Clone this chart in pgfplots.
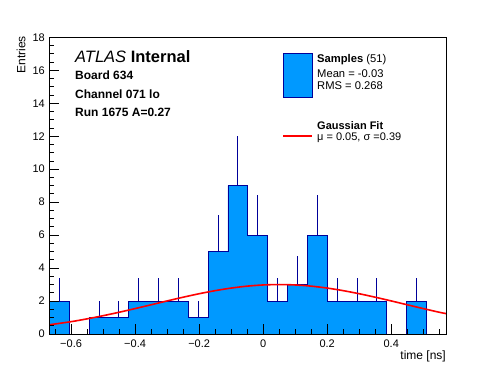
\documentclass[border=0pt]{standalone}
\usepackage{fontspec}
\setmainfont{Liberation Sans}
\usepackage{pgfplots}
\pgfplotsset{compat=1.18}
\definecolor{rootblue}{RGB}{0,153,255}
\definecolor{rootnavy}{RGB}{0,0,153}
\newcommand{\fs}[1]{\fontsize{#1bp}{#1bp}\selectfont}
\begin{document}
\begin{tikzpicture}
\path[use as bounding box] (0,0) rectangle (496bp,372bp);
\begin{axis}[
  at={(49.3bp,38bp)}, anchor=south west,
  scale only axis, width=397bp, height=296.7bp,
  xmin=-0.668, xmax=0.572, ymin=0, ymax=18,
  axis on top,
  axis line style={line width=0.8bp},
  xtick={-0.6,-0.4,-0.2,0,0.2,0.4},
  xticklabels={−0.6,−0.4,−0.2,0,0.2,0.4},
  minor xtick={-0.65,-0.6,...,0.56},
  ytick={0,2,...,18},
  minor ytick={0,0.5,...,18},
  xtick pos=bottom, ytick pos=left,
  tick align=inside,
  major tick length=10bp, minor tick length=5bp,
  every tick/.style={line width=0.8bp, black},
  /pgf/number format/assume math mode=true,
  xticklabel style={font=\fs{11}, yshift=-2bp},
  yticklabel style={font=\fs{11}, xshift=-1bp},
]
% histogram: bin lower edges and counts
\addplot[const plot, fill=rootblue, draw=rootnavy, line width=0.9bp] coordinates {
(-0.668,2) (-0.606,0) (-0.544,1) (-0.482,1) (-0.420,2) (-0.358,2) (-0.296,2)
(-0.234,1) (-0.172,5) (-0.110,9) (-0.048,6) (0.014,2) (0.076,3) (0.138,6)
(0.200,2) (0.262,2) (0.324,2) (0.386,0) (0.448,2) (0.510,0) (0.572,0)
} \closedcycle;
% error bars (upper half visible)
\addplot[draw=none, mark=none, forget plot,
  error bars/.cd, y dir=plus, y explicit, error mark=none,
  error bar style={rootnavy, line width=0.8bp}]
  table[x=x, y=y, y error=e] {
x y e
-0.637 2 1.414
-0.513 1 1
-0.451 1 1
-0.389 2 1.414
-0.327 2 1.414
-0.265 2 1.414
-0.203 1 1
-0.141 5 2.236
-0.079 9 3
-0.017 6 2.449
0.045 2 1.414
0.107 3 1.732
0.169 6 2.449
0.231 2 1.414
0.293 2 1.414
0.355 2 1.414
0.479 2 1.414
};
% Gaussian fit curve
\addplot[red, line width=1.6bp, smooth] coordinates {
(-0.668,0.559) (-0.6,0.748) (-0.55,0.919) (-0.5,1.110) (-0.45,1.319) (-0.4,1.542)
(-0.35,1.773) (-0.3,2.006) (-0.25,2.232) (-0.2,2.443) (-0.15,2.630) (-0.1,2.786)
(-0.05,2.903) (0,2.975) (0.05,3.0) (0.1,2.975) (0.15,2.903) (0.2,2.786)
(0.25,2.630) (0.3,2.443) (0.35,2.232) (0.4,2.006) (0.45,1.773) (0.5,1.542)
(0.55,1.319) (0.572,1.235)
};
\end{axis}
% axis titles
\node[rotate=90, anchor=east, inner sep=0pt, font=\fs{12}] at (21bp,336bp) {Entries};
\node[anchor=east, inner sep=0pt, font=\fs{12}] at (446bp,16bp) {time [ns]};
% ATLAS labels
\node[anchor=base west, inner sep=0pt, font=\fs{16.5}] at (75bp,309.3bp) {\textit{ATLAS} \textbf{Internal}};
\node[anchor=base west, inner sep=0pt, font=\fs{12}\bfseries] at (75bp,292bp) {Board 634};
\node[anchor=base west, inner sep=0pt, font=\fs{12}\bfseries] at (75bp,273.7bp) {Channel 071 lo};
\node[anchor=base west, inner sep=0pt, font=\fs{12}\bfseries] at (75bp,255.3bp) {Run 1675 A=0.27};
% legend
\fill[rootblue, draw=rootnavy, line width=0.8bp] (283bp,275bp) rectangle (312bp,319bp);
\node[anchor=base west, inner sep=0pt, font=\fs{11.2}] at (317bp,309.3bp) {\textbf{Samples} (51)};
\node[anchor=base west, inner sep=0pt, font=\fs{11.2}] at (317bp,294.7bp) {Mean = -0.03};
\node[anchor=base west, inner sep=0pt, font=\fs{11.2}] at (317bp,282bp) {RMS = 0.268};
\draw[red, line width=1.6bp] (283bp,236bp) -- (312bp,236bp);
\node[anchor=base west, inner sep=0pt, font=\fs{11}] at (317bp,242bp) {\textbf{Gaussian Fit}};
\node[anchor=base west, inner sep=0pt, font=\fs{11}] at (317bp,231bp) {μ = 0.05, σ =0.39};
\end{tikzpicture}
\end{document}
